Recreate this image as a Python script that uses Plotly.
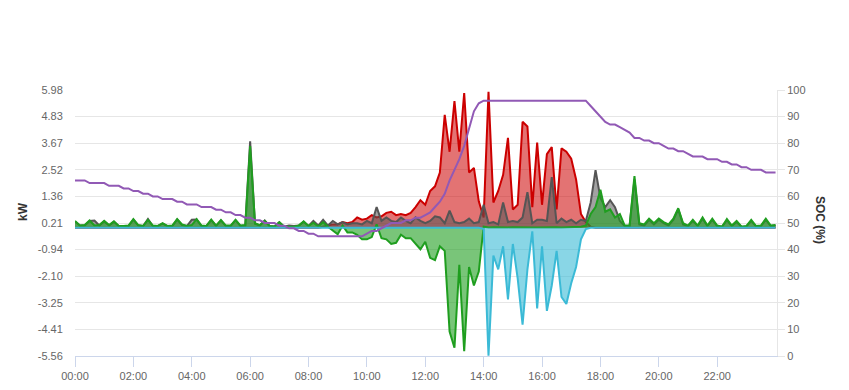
import pandas as pd
import plotly.graph_objects as go

# 10-minute samples from 00:00 to 24:00
start = pd.Timestamp("2024-01-01 00:00")
times = pd.date_range(start, periods=145, freq="10min")

solar_kw = ([0.0] * 51 +
            [0.05, 0.10, 0.15,
             0.15, 0.25, 0.20, 0.25, 0.45, 0.35, 0.40, 0.55, 0.45, 0.50, 0.65, 0.70, 0.55, 0.60, 0.55, 0.65, 0.90, 1.20,
             1.00, 1.60, 1.80, 2.40, 4.90, 3.30, 5.50, 3.30, 5.85, 2.40, 2.60, 1.15,
             0.45, 5.90, 1.10, 1.60, 2.30, 3.90, 0.80, 1.00, 4.60, 4.40, 0.90, 3.70, 1.00, 3.20, 3.50, 0.80, 3.45, 3.30,
             3.00, 2.10, 0.60, 0.25, 0.05] +
            [0.0] * 38)

home_kw = [0.28, 0.10, 0.10, 0.30, 0.32, 0.10, 0.28, 0.10, 0.26, 0.08, 0.08, 0.08, 0.36, 0.10, 0.08, 0.38, 0.08, 0.08,
           0.18, 0.08, 0.08, 0.36, 0.12, 0.08, 0.35, 0.36, 0.08, 0.08, 0.34, 0.08, 0.32, 0.08, 0.08, 0.33, 0.08, 0.10,
           3.75, 0.18, 0.10, 0.32, 0.08, 0.06, 0.24, 0.05, 0.10, 0.08, 0.10, 0.26, 0.08, 0.30, 0.10, 0.35, 0.10, 0.30,
           0.15, 0.25, 0.15, 0.20, 0.20, 0.15, 0.30, 0.20, 0.90, 0.30, 0.45, 0.30, 0.25, 0.45, 0.30, 0.20, 0.45, 0.30,
           0.20, 0.30, 0.50, 0.45, 0.20, 0.75, 0.25, 0.20, 0.25, 0.40, 0.20, 0.25,
           1.00, 0.20, 0.25, 0.15, 1.10, 0.25, 0.30, 0.25, 0.45, 1.55, 0.20, 0.35, 0.35, 0.30, 2.20, 0.20, 0.40, 0.25,
           0.35, 0.20, 0.35, 0.30, 1.10,
           2.50, 1.30, 0.90, 1.20, 0.90, 0.30, 0.08, 0.08, 2.10, 0.15, 0.10, 0.35, 0.15, 0.35, 0.20, 0.10, 0.35, 0.80,
           0.15, 0.08, 0.30, 0.08, 0.40, 0.08, 0.35, 0.08, 0.05, 0.33, 0.08, 0.25, 0.05, 0.06, 0.30, 0.06, 0.08, 0.35,
           0.08, 0.10]

battery_kw = [0.30, 0.10, 0.12, 0.32, 0.10, 0.12, 0.30, 0.12, 0.28, 0.08, 0.08, 0.10, 0.38, 0.12, 0.08, 0.35, 0.10,
              0.08, 0.20, 0.08, 0.10, 0.38, 0.15, 0.08, 0.12, 0.38, 0.10, 0.08, 0.36, 0.10, 0.34, 0.10, 0.10, 0.35,
              0.10, 0.12, 3.55, 0.20, 0.12, 0.30, 0.08, 0.06, 0.25, 0.05, 0.05, 0.05, 0.10, 0.28, 0.08, 0.22, 0.06,
              0.25, 0.05, -0.10,
              -0.28, 0.10, -0.20, -0.20, -0.30, -0.50, -0.50, -0.40, 0.15, -0.45, -0.50, -0.70, -0.65, -0.30, -0.45,
              -0.45, -0.70, -0.93,
              -0.60, -1.30, -1.40, -0.80, -1.00, -4.50, -5.20, -1.60, -5.35, -1.70, -2.50, -1.90,
              0.05, 0.02, 0.03, 0.02, 0.03, 0.02, 0.03, 0.02, 0.02, 0.03, 0.02, 0.02, 0.03, 0.02, 0.02, 0.03, 0.02,
              0.02, 0.03, 0.03, 0.05, 0.10, 0.60,
              0.90, 1.65, 0.70, 0.80, 0.45, 0.60, 0.10, 0.10, 2.25, 0.20, 0.15, 0.40, 0.20, 0.40, 0.25, 0.15, 0.40,
              0.85, 0.20, 0.10, 0.35, 0.10, 0.45, 0.10, 0.40, 0.10, 0.05, 0.38, 0.10, 0.30, 0.05, 0.08, 0.35, 0.08,
              0.10, 0.40, 0.10, 0.12]

grid_kw = ([0.0] * 84 +
           [-0.05, -5.55, -1.20, -1.80, -0.80, -3.10, -0.70, -2.20, -4.20, -1.80, -0.15, -3.50, -0.80, -3.60, -2.50,
            -1.00, -3.00, -3.30, -2.40, -1.70, -0.50, -0.05, 0.0] +
           [0.0] * 38)

soc_pct = [66, 66, 66, 65, 65, 65, 65, 64, 64, 64, 63, 63,
           62, 62, 61, 61, 60, 60, 59, 59, 59, 58, 58, 57,
           57, 57, 56, 56, 56, 55, 55, 54, 54, 53, 53, 52,
           52, 51, 51, 50, 50, 50, 49, 49, 48, 48, 47, 47,
           46, 46, 45, 45, 45, 45, 45, 45, 45, 45, 45, 45,
           46, 47, 47, 48, 49, 50, 50, 50, 51, 51, 52, 52,
           53, 54, 56, 58, 61, 66, 70, 74, 79, 86, 92, 95] + [96] * 22 + [
           94, 92, 90, 88, 87, 87, 86, 85, 84, 82, 82, 81,
           81, 80, 80, 79, 78, 78, 77, 77, 76, 75, 75, 75,
           74, 74, 74, 73, 73, 72, 72, 71, 71, 70, 70, 70, 69, 69, 69]

kw_tick_labels = ["5.98", "4.83", "3.67", "2.52", "1.36", "0.21", "-0.94", "-2.10", "-3.25", "-4.41", "-5.56"]
time_tick_labels = ["00:00", "02:00", "04:00", "06:00", "08:00", "10:00",
                    "12:00", "14:00", "16:00", "18:00", "20:00", "22:00"]

series = [
    ("Solar", solar_kw, "#cc0000", "rgba(204,0,0,0.55)"),
    ("Home", home_kw, "#555555", "rgba(85,85,85,0.55)"),
    ("Battery", battery_kw, "#1f9e1f", "rgba(31,158,31,0.6)"),
    ("Grid", grid_kw, "#3bbad6", "rgba(59,186,214,0.6)"),
]

fig = go.Figure()
for name, vals, lc, fc in series:
    fig.add_trace(go.Scatter(x=times, y=vals, name=name, mode="lines", fill="tozeroy",
                             line=dict(color=lc, width=2), fillcolor=fc))
fig.add_trace(go.Scatter(x=times, y=soc_pct, name="SOC", mode="lines", yaxis="y2",
                         line=dict(color="#9159b5", width=2)))

tick_times = [start + pd.Timedelta(hours=int(s[:2])) for s in time_tick_labels]
kw_vals = [float(s) for s in kw_tick_labels]

fig.update_layout(
    width=849, height=390,
    margin=dict(l=75, r=72, t=90, b=34, autoexpand=False),
    plot_bgcolor="white", paper_bgcolor="white",
    showlegend=False,
    font=dict(family="Liberation Sans, Arial, sans-serif", size=11, color="#666666"),
    xaxis=dict(type="date", range=[start, start + pd.Timedelta(minutes=24 * 60 + 3)],
               tickmode="array", tickvals=tick_times, ticktext=time_tick_labels,
               ticks="outside", ticklen=10, tickcolor="#ccd6eb", automargin=False,
               showline=True, linecolor="#ccd6eb", linewidth=1,
               showgrid=False, zeroline=False, tickfont=dict(size=11, color="#666666")),
    yaxis=dict(range=[kw_vals[-1], kw_vals[0]], tickmode="array", tickvals=kw_vals, ticktext=kw_tick_labels,
               showgrid=True, gridcolor="#e6e6e6", gridwidth=1, zeroline=False, showline=False, automargin=False,
               ticks="outside", ticklen=9, tickcolor="rgba(0,0,0,0)", tickfont=dict(size=11, color="#666666")),
    yaxis2=dict(overlaying="y", side="right", range=[0, 100], tickmode="linear", tick0=0, dtick=10,
                showgrid=False, zeroline=False, showline=True, linecolor="#e6e6e6", linewidth=1, automargin=False,
                ticks="outside", ticklen=7, tickcolor="#e6e6e6", tickfont=dict(size=11, color="#666666")),
    annotations=[
        dict(text="<b>kW</b>", xref="paper", yref="paper", x=(23 - 75) / 702, y=(356 - 212) / 266,
             showarrow=False, textangle=-90, font=dict(size=12, color="#333333"),
             xanchor="center", yanchor="middle"),
        dict(text="<b>SOC (%)</b>", xref="paper", yref="paper", x=(820 - 75) / 702, y=(356 - 220) / 266,
             showarrow=False, textangle=90, font=dict(size=12, color="#333333"),
             xanchor="center", yanchor="middle"),
    ],
)

fig.write_html("out.html")
